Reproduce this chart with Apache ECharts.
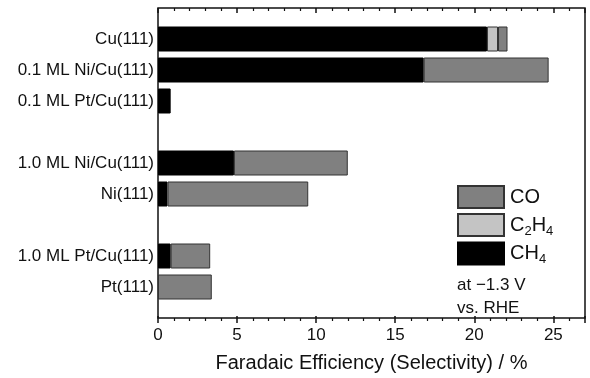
<!DOCTYPE html>
<html>
<head>
<meta charset="utf-8">
<script src="https://cdn.jsdelivr.net/npm/echarts@6/dist/echarts.min.js"></script>
<style>
html,body{margin:0;padding:0;background:#fff;}
#chart{width:590px;height:378px;}
</style>
</head>
<body>
<div id="chart"></div>
<script>
// Categories (blank entries are spacer rows)
const categories = ['', 'Cu(111)', '0.1 ML Ni/Cu(111)', '0.1 ML Pt/Cu(111)', ' ', '1.0 ML Ni/Cu(111)', 'Ni(111)', '  ', '1.0 ML Pt/Cu(111)', 'Pt(111)', '   '];
// Faradaic efficiency values (%)
const ch4Values  = [null, 20.8, 16.8, 0.8, null, 4.8, 0.6, null, 0.8, null, null];
const c2h4Values = [null, 0.7, null, null, null, null, null, null, null, null, null];
const coValues   = [null, 0.6, 7.9, null, null, 7.2, 8.9, null, 2.5, 3.4, null];
const xTicks = [0, 5, 10, 15, 20, 25];

const FONT = '"Liberation Sans", Arial, Helvetica, sans-serif';
const chart = echarts.init(document.getElementById('chart'), null, {renderer: 'canvas'});

const xScale = {type: 'value', min: 0, max: 27, interval: 5};

chart.setOption({
  animation: false,
  backgroundColor: '#fff',
  textStyle: {fontFamily: FONT},
  title: {
    text: 'at \u22121.3 V\nvs. RHE',
    left: 457, top: 274, padding: 0,
    textStyle: {fontFamily: FONT, fontSize: 17, fontWeight: 'normal', color: '#111', lineHeight: 23}
  },
  legend: {
    orient: 'vertical',
    left: 457, top: 185, padding: 0,
    icon: 'rect',
    itemWidth: 46, itemHeight: 22, itemGap: 4,
    data: ['CO', 'C2H4', 'CH4'],
    formatter: function (name) {
      if (name === 'C2H4') return '{n|C}{s|2}{n|H}{s|4}';
      if (name === 'CH4') return '{n|CH}{s|4}';
      return '{n|' + name + '}';
    },
    textStyle: {
      fontFamily: FONT, color: '#111', padding: [0, 0, 0, 1],
      rich: {
        n: {fontSize: 20, fontFamily: FONT, color: '#111'},
        s: {fontSize: 13, fontFamily: FONT, color: '#111', padding: [12, 0, 0, 0]}
      }
    }
  },
  grid: {
    left: 158, right: 5, top: 8, bottom: 55,
    show: true, borderColor: '#111', borderWidth: 1.5, backgroundColor: 'transparent'
  },
  xAxis: [
    Object.assign({}, xScale, {
      position: 'bottom',
      name: 'Faradaic Efficiency (Selectivity) / %',
      nameLocation: 'middle', nameGap: 35,
      nameTextStyle: {fontFamily: FONT, fontSize: 20, color: '#111'},
      axisLine: {show: false},
      axisTick: {show: true, inside: false, length: 5, lineStyle: {color: '#111', width: 1.5}},
      minorTick: {show: true, splitNumber: 5, length: 3, lineStyle: {color: '#111', width: 1.2}},
      splitLine: {show: false},
      minorSplitLine: {show: false},
      axisLabel: {
        fontFamily: FONT, fontSize: 17, color: '#111', margin: 9,
        showMaxLabel: false,
        formatter: function (v) { return xTicks.indexOf(v) >= 0 ? String(v) : ''; }
      }
    }),
    Object.assign({}, xScale, {
      position: 'top',
      axisLine: {show: false},
      axisTick: {show: true, inside: true, length: 5, lineStyle: {color: '#111', width: 1.5}},
      minorTick: {show: true, splitNumber: 5, length: 3, lineStyle: {color: '#111', width: 1.2}},
      splitLine: {show: false},
      axisLabel: {show: false}
    }),
    Object.assign({}, xScale, {
      position: 'bottom',
      axisLine: {show: false},
      axisTick: {show: true, inside: true, length: 2, lineStyle: {color: '#111', width: 1.5}},
      minorTick: {show: false},
      splitLine: {show: false},
      axisLabel: {show: false}
    })
  ],
  yAxis: {
    type: 'category',
    data: categories,
    inverse: true,
    boundaryGap: false,
    axisLine: {show: false},
    axisTick: {show: false},
    splitLine: {show: false},
    axisLabel: {fontFamily: FONT, fontSize: 17, color: '#111', margin: 4, interval: 0}
  },
  series: [
    {
      name: 'CH4', type: 'bar', stack: 'fe', xAxisIndex: 0, barWidth: 25,
      data: ch4Values,
      itemStyle: {color: '#000', borderColor: '#000', borderWidth: 1, borderRadius: 0}
    },
    {
      name: 'C2H4', type: 'bar', stack: 'fe', xAxisIndex: 0, barWidth: 25,
      data: c2h4Values,
      itemStyle: {color: '#c4c4c4', borderColor: '#333', borderWidth: 1, borderRadius: 0}
    },
    {
      name: 'CO', type: 'bar', stack: 'fe', xAxisIndex: 0, barWidth: 25,
      data: coValues,
      itemStyle: {color: '#808080', borderColor: '#333', borderWidth: 1, borderRadius: 0}
    }
  ]
});
</script>
</body>
</html>
